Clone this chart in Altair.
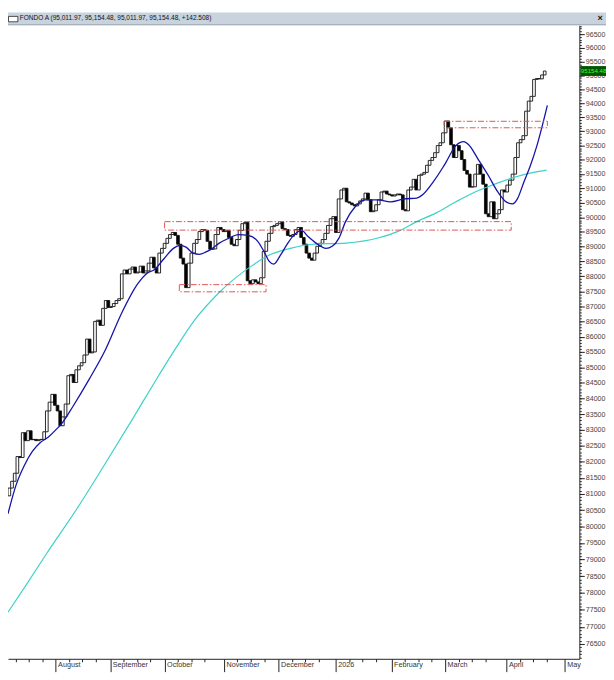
import json
import altair as alt
import pandas as pd

# ---------------- data ----------------
title_text = "FONDO A (95,011.97, 95,154.48, 95,011.97, 95,154.48, +142.508)"

first_open = 80940
closes = [
    81180, 81390, 81640, 82160, 82130, 82910, 82660, 82970, 82690, 82700,
    82660, 82690, 82700, 82940, 83600, 83880, 84130, 83780, 83600, 83130,
    83410, 83820, 84730, 84770, 84510, 84920, 85050, 85150, 85400, 85920,
    85470, 85500, 86500, 86540, 86370, 86930, 87190, 86960, 86990, 87090,
    87190, 87250, 88080, 88210, 88080, 88240, 88310, 88110, 88140, 88340,
    88110, 88180, 88440, 88640, 88280, 88110, 88780, 88940, 89110, 89280,
    89410, 89480, 89380, 89080, 88610, 88410, 87620, 88440, 88780, 89110,
    89240, 89510, 89580, 89550, 89180, 88910, 88920, 89410, 89650, 89580,
    89510, 89550, 89310, 89080, 89030, 89240, 89550, 89780, 89820, 87850,
    87750, 87880, 87810, 87750, 87950, 88840, 89180, 89450, 89680, 89720,
    89780, 89850, 89610, 89580, 89380, 89350, 89410, 89580, 89650, 89310,
    89080, 88780, 88610, 88540, 88780, 89010, 89110, 89240, 89450, 89720,
    89950, 90020, 89480, 90630, 90940, 91000, 90530, 90490, 90430, 90390,
    90460, 90560, 90630, 90830, 90600, 90190, 90220, 90430, 90600, 90870,
    90900, 90800, 90770, 90730, 90770, 90800, 90770, 90260, 90220, 90940,
    91040, 91310, 90940, 91450, 91490, 91550, 91800, 91970, 92070, 92240,
    92490, 92590, 92940, 93360, 93120, 92520, 92070, 92490, 92310, 92000,
    91620, 91490, 91040, 91050, 91490, 91830, 91490, 91140, 90120, 90020,
    90530, 89950, 90120, 90260, 90940, 90870, 91110, 91280, 91490, 92070,
    92590, 92700, 92840, 93710, 94070, 94240, 94850, 94880, 94870, 95011.97,
    95154.48,
]

# short moving average (blue), read at sample bars
blue_i = [-0.5, 2.5, 5.6, 8.6, 11.6, 14.7, 17.7, 19.5, 23.8, 29.8, 35.9, 41.9,
          48.0, 51.6, 54.0, 57.7, 61.3, 63.8, 66.0, 68.6, 71.0, 73.3, 75.9,
          78.3, 81.9, 85.6, 89.2, 92.8, 95.1, 97.0, 98.8, 101.3, 103.8, 106.2,
          109.2, 111.5, 114.7, 118.3, 120.6, 123.1, 125.6, 129.2, 132.8, 137.7,
          142.4, 147.4, 152.2, 154.7, 158.3, 162.0, 163.1, 166.8, 169.8, 171.6,
          175.2, 178.9, 182.5, 185.6, 188.0, 189.8, 192.2, 194.7, 197.1, 201.0]
blue_v = [80390, 81270, 81880, 82320, 82600, 82780, 83030, 83190, 83750, 84610,
          85570, 86760, 87750, 88110, 88210, 88580, 88940, 89040, 88980, 88780,
          88740, 88810, 88940, 89110, 89280, 89410, 89380, 89180, 88840, 88510,
          88410, 88710, 89080, 89380, 89550, 89350, 89110, 88940, 89010, 89280,
          89850, 90360, 90600, 90600, 90530, 90630, 90660, 90800, 91210, 91730,
          91900, 92490, 92630, 92520, 92000, 91450, 90870, 90530, 90460, 90630,
          91210, 91800, 92490, 93920]

# long moving average (cyan)
cyan_i = [-0.5, 6.8, 14.0, 25.7, 35.9, 46.0, 54.0, 61.3, 69.2, 78.3, 90.4, 97.7,
          105.0, 113.3, 125.7, 137.7, 145.0, 152.2, 159.5, 166.8, 174.0, 181.3,
          188.6, 195.9, 200.7]
cyan_v = [77430, 78300, 79190, 80600, 81950, 83340, 84480, 85500, 86540, 87450,
          88340, 88740, 88940, 89080, 89120, 89290, 89510, 89850, 90150, 90530,
          90870, 91140, 91380, 91550, 91630]

# red dash-dot boxes
box_x0 = [58.0, 63.5, 162.4]
box_x1 = [187.5, 95.9, 201.0]
box_top = [89850, 87720, 93350]
box_bot = [89560, 87480, 93120]

# axis labels / tick positions (in bar units)
month_pos = [17.3, 37.7, 58.0, 80.2, 100.6, 122.0, 142.8, 162.8, 185.7, 207.5]
month_names = ["August", "September", "October", "November", "December",
               "2026", "February", "March", "April", "May"]
week_pos = [2.3, 7.3, 12.3, 22.3, 27.3, 32.3, 42.7, 47.7, 52.7, 63.0, 68.0,
            73.0, 85.2, 90.2, 95.2, 105.6, 110.6, 115.6, 127.0, 132.0, 137.0,
            147.8, 152.8, 157.8, 167.8, 172.8, 177.8, 190.7, 195.7, 200.7]
y_major = list(range(76500, 97000, 500))
y_minor = list(range(76100, 96900, 100))

last_price = 95154.48
last_label = "95154.48"

# ---------------- build ----------------
W, H = 579, 642
FONT = "Liberation Sans"

opens = [first_open] + closes[:-1]
df = pd.DataFrame({"i": list(range(len(closes))), "open": opens, "close": closes})
df["x0"] = df["i"] - 0.5
df["x1"] = df["i"] + 0.5

xscale = alt.Scale(domain=[-0.5, 212.95], nice=False, zero=False)
yscale = alt.Scale(type="log", domain=[76070, 96827], nice=False, zero=False)

label_expr = f"{json.dumps(month_names)}[indexof({json.dumps(month_pos)}, datum.value)]"

x_major = alt.Axis(orient="bottom", values=month_pos, labelExpr=label_expr, title=None,
                   tickSize=13, tickColor="#222", domainColor="#222", grid=False,
                   labelAlign="left", labelBaseline="top", labelPadding=-11,
                   labelOffset=2, labelFontSize=7.3, labelColor="#333",
                   labelFont=FONT, labelFlush=False, labelOverlap=False)
y_major_ax = alt.Axis(orient="right", values=y_major, format="d", title=None,
                      tickSize=5, tickColor="#222", domainColor="#222", grid=False,
                      labelPadding=1, labelFontSize=7.2, labelColor="#444",
                      labelFont=FONT, labelFlush=False, labelOverlap=False)
x_minor = alt.Axis(orient="bottom", values=week_pos, labels=False, domain=False,
                   tickSize=3, tickColor="#222", grid=False, title=None)
y_minor_ax = alt.Axis(orient="right", values=y_minor, labels=False, domain=False,
                      tickSize=2, tickColor="#333", grid=False, title=None)

minor = alt.Chart(pd.DataFrame({"x": [0.0], "y": [85000.0]})).mark_point(opacity=0).encode(
    x=alt.X("x:Q", scale=xscale, axis=x_minor),
    y=alt.Y("y:Q", scale=yscale, axis=y_minor_ax),
)

candles = alt.Chart(df).mark_rect(stroke="#111", strokeWidth=0.9).encode(
    x=alt.X("x0:Q", scale=xscale, axis=x_major),
    x2="x1:Q",
    y=alt.Y("open:Q", scale=yscale, axis=y_major_ax),
    y2="close:Q",
    fill=alt.condition("datum.close >= datum.open", alt.value("white"), alt.value("black")),
)

cyan = alt.Chart(pd.DataFrame({"i": cyan_i, "v": cyan_v})).mark_line(
    color="#3cd2c8", strokeWidth=1.2, interpolate="monotone").encode(
    x=alt.X("i:Q", scale=xscale, axis=None),
    y=alt.Y("v:Q", scale=yscale, axis=None),
)
blue = alt.Chart(pd.DataFrame({"i": blue_i, "v": blue_v})).mark_line(
    color="#1414a8", strokeWidth=1.3, interpolate="monotone").encode(
    x=alt.X("i:Q", scale=xscale, axis=None),
    y=alt.Y("v:Q", scale=yscale, axis=None),
)

boxes = alt.Chart(pd.DataFrame({"x0": box_x0, "x1": box_x1, "top": box_top, "bot": box_bot})).mark_rect(
    fillOpacity=0, stroke="#e05555", strokeWidth=1, strokeDash=[6, 2, 1.5, 2]).encode(
    x=alt.X("x0:Q", scale=xscale, axis=None),
    x2="x1:Q",
    y=alt.Y("top:Q", scale=yscale, axis=None),
    y2="bot:Q",
)

one = pd.DataFrame({"v": [last_price], "t": [last_label], "title": [title_text]})

price_bg = alt.Chart(one).mark_rule(color="#005500", strokeWidth=10).encode(
    y=alt.Y("v:Q", scale=yscale, axis=None),
    x=alt.value(W + 1), x2=alt.value(W + 27),
)
price_txt = alt.Chart(one).mark_text(color="#3dff3d", fontSize=6.2, font=FONT,
                                     align="left", baseline="middle").encode(
    y=alt.Y("v:Q", scale=yscale, axis=None),
    x=alt.value(W + 1.5),
    text="t:N",
)

bar_bg = alt.Chart(one).mark_rect(color="#c8d3de").encode(
    x=alt.value(0), x2=alt.value(W + 27), y=alt.value(-13), y2=alt.value(-1))
bar_line = alt.Chart(one).mark_rule(color="#8b98a6", strokeWidth=1).encode(
    x=alt.value(0), x2=alt.value(W + 27), y=alt.value(-0.5))
icon = alt.Chart(one).mark_rect(fill="white", stroke="#222", strokeWidth=0.8).encode(
    x=alt.value(0.5), x2=alt.value(10), y=alt.value(-9), y2=alt.value(-3.5))
title_mark = alt.Chart(one).mark_text(align="left", baseline="middle", fontSize=6.6,
                                      font=FONT, color="#111").encode(
    x=alt.value(12), y=alt.value(-7), text="title:N")
close_btn = alt.Chart(one).mark_text(align="center", baseline="middle", fontSize=9,
                                     fontWeight="bold", font=FONT, color="#111").encode(
    x=alt.value(W + 21), y=alt.value(-7), text=alt.value("×"))

chart = alt.layer(
    minor, candles, cyan, blue, boxes, price_bg, price_txt,
    bar_bg, bar_line, icon, title_mark, close_btn,
).resolve_axis(x="independent", y="independent").properties(
    width=W, height=H,
    autosize=alt.AutoSizeParams(type="none"),
    padding={"left": 0, "top": 13, "right": 27, "bottom": 17},
    background="white",
).configure_view(stroke=None)

chart.save("out.html", embed_options={"renderer": "svg", "actions": False})
